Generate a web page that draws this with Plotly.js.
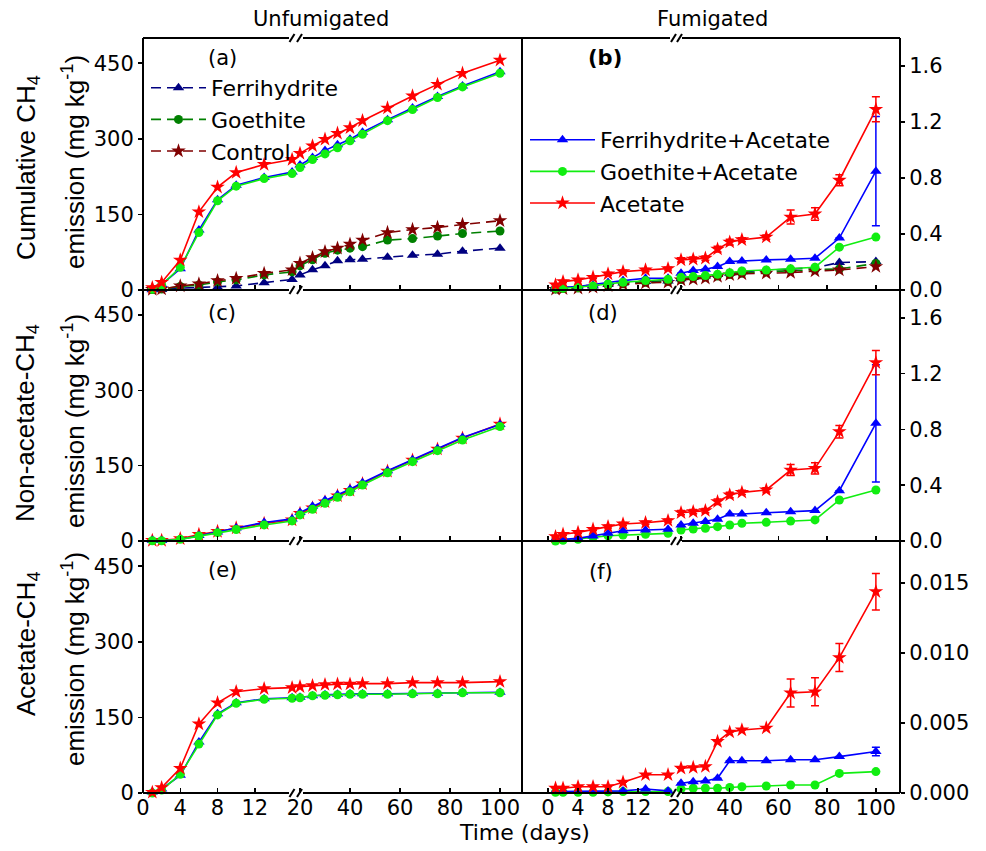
<!DOCTYPE html>
<html>
<head>
<meta charset="utf-8">
<script src="https://cdn.plot.ly/plotly-3.0.1.min.js"></script>
<style>html,body{margin:0;padding:0;background:#fff;}#chart{width:986px;height:851px;}</style>
</head>
<body>
<div id="chart"></div>
<script>
// ---------------- DATA ----------------
const days = [1, 2, 4, 6, 8, 10, 13, 16, 20, 25, 30, 35, 40, 45, 55, 65, 75, 85, 100];
const ticksLeftSeg = [0, 4, 8, 12];
const ticksRightSeg = [20, 40, 60, 80, 100];

// (a) Unfumigated, cumulative CH4 (mg kg-1)
const a_ferri   = [0.5, 1, 3.7, 5, 5.3, 8, 14.6, 21, 30, 40, 48, 58, 60, 61, 65, 69, 71, 77, 83];
const a_goe     = [1, 2, 7, 10, 16, 20, 30, 36, 48, 60, 73, 79, 83, 86, 99, 102, 107, 112, 117];
const a_ctrl    = [1, 2, 8, 12, 18.5, 23, 33, 40, 53, 64, 76, 83, 91, 99, 114, 120, 124, 130, 137.5];
const a_ferriAc = [2, 11, 42, 119, 179, 208, 223, 234, 248, 263, 277, 288, 299, 313, 338, 361, 384, 405, 433];
const a_goeAc   = [1.3, 10, 45, 114, 177, 206, 221, 231, 243, 259, 270, 282, 296, 309, 336, 358, 382, 403, 430];
const a_ac      = [4.6, 15, 59.5, 155, 204, 233, 249, 259, 271, 286, 299, 311, 322, 336, 361, 385, 408, 430, 456];

// (b) Fumigated, cumulative CH4
const b_ferri   = [0.008, 0.012, 0.018, 0.028, 0.04, 0.05, 0.06, 0.065, 0.08, 0.09, 0.1, 0.11, 0.12, 0.13, 0.14, 0.15, 0.16, 0.196, 0.203];
const b_goe     = [0.006, 0.01, 0.015, 0.024, 0.035, 0.045, 0.055, 0.06, 0.075, 0.085, 0.093, 0.1, 0.11, 0.12, 0.13, 0.14, 0.145, 0.15, 0.19];
const b_ctrl    = [0.005, 0.008, 0.012, 0.02, 0.03, 0.04, 0.05, 0.055, 0.072, 0.077, 0.084, 0.096, 0.108, 0.115, 0.12, 0.124, 0.135, 0.143, 0.167];
const b_ferriAc = [0.024, 0.02, 0.024, 0.036, 0.053, 0.067, 0.084, 0.084, 0.12, 0.139, 0.148, 0.167, 0.203, 0.208, 0.215, 0.22, 0.227, 0.371, 0.849];
const b_ferriAc_err = [0, 0, 0, 0, 0, 0, 0, 0, 0, 0, 0, 0, 0, 0, 0, 0, 0, 0, 0.39];
const b_goeAc   = [0.012, 0.012, 0.02, 0.029, 0.043, 0.055, 0.067, 0.077, 0.091, 0.096, 0.103, 0.112, 0.124, 0.136, 0.143, 0.151, 0.163, 0.306, 0.378];
const b_ac      = [0.036, 0.06, 0.072, 0.091, 0.115, 0.131, 0.143, 0.153, 0.215, 0.22, 0.227, 0.292, 0.342, 0.359, 0.378, 0.521, 0.543, 0.784, 1.291];
const b_ac_err  = [0.008, 0.008, 0.008, 0.008, 0.01, 0.01, 0.01, 0.01, 0.015, 0.015, 0.015, 0.02, 0.02, 0.015, 0.015, 0.05, 0.045, 0.04, 0.09];

// (c) Unfumigated, non-acetate CH4
const c_ac      = [1, 1.2, 4.5, 13, 19, 26, 35, 42, 55, 66, 78, 90, 101, 114, 139, 161, 183, 205, 233];
const c_ferriAc = [1.5, 1, 3, 11, 18, 26, 37, 44, 57, 69, 81, 92, 103, 116, 140, 162, 184, 206, 232];
const c_goeAc   = [0.6, 0.6, 3.3, 10, 16.6, 23, 32, 40, 52, 63, 75, 87, 98, 111.5, 136, 158, 180, 201, 228];

// (d) Fumigated, non-acetate CH4
const d_ferriAc = [0.012, 0.012, 0.019, 0.036, 0.055, 0.074, 0.079, 0.084, 0.115, 0.127, 0.139, 0.156, 0.194, 0.194, 0.203, 0.21, 0.218, 0.361, 0.844];
const d_ferriAc_err = [0, 0, 0, 0, 0, 0, 0, 0, 0, 0, 0, 0, 0, 0, 0, 0, 0, 0, 0.42];
const d_goeAc   = [0, 0.005, 0.012, 0.026, 0.038, 0.043, 0.048, 0.055, 0.079, 0.086, 0.091, 0.103, 0.115, 0.127, 0.134, 0.143, 0.151, 0.294, 0.366];
const d_ac      = [0.031, 0.048, 0.062, 0.084, 0.103, 0.122, 0.131, 0.146, 0.203, 0.21, 0.218, 0.282, 0.33, 0.349, 0.366, 0.509, 0.521, 0.784, 1.279];
const d_ac_err  = [0.008, 0.008, 0.008, 0.008, 0.01, 0.01, 0.01, 0.01, 0.015, 0.015, 0.015, 0.02, 0.02, 0.015, 0.015, 0.04, 0.04, 0.045, 0.087];

// (e) Unfumigated, acetate CH4
const e_ac      = [1.3, 10.7, 49, 137, 179, 201, 207, 209, 211, 213, 215, 216, 216, 217, 217, 219, 219, 219, 221];
const e_ferriAc = [2, 8, 35, 101, 157, 179, 187, 189, 190, 193, 195, 196, 197, 197, 197, 198, 198, 200, 200];
const e_goeAc   = [0, 6, 37, 97, 155, 178, 186, 188, 189, 193, 194, 195, 196, 196, 196, 197, 197, 199, 199];

// (f) Fumigated, acetate CH4
const f_ferriAc = [0.0001, 0.0001, 0.0001, 0.0001, 0.00012, 0.00015, 0.00029, 0.00015, 0.0007, 0.00081, 0.00086, 0.00105, 0.0023, 0.0023, 0.0023, 0.00237, 0.00237, 0.0026, 0.00296];
const f_ferriAc_err = [0, 0, 0, 0, 0, 0, 0, 0, 0, 0, 0, 0, 0, 0, 0, 0, 0, 0, 0.0003];
const f_goeAc   = [0.00005, 0.00005, 0.00005, 0.00005, 0.00008, 0.0001, 0.0001, 0.0001, 0.00029, 0.00034, 0.00034, 0.00034, 0.0004, 0.00045, 0.0005, 0.00057, 0.00057, 0.0014, 0.00153];
const f_ac      = [0.00034, 0.00034, 0.00045, 0.00045, 0.00045, 0.00077, 0.0013, 0.0013, 0.00177, 0.00182, 0.00189, 0.00368, 0.00435, 0.0045, 0.00464, 0.00715, 0.00723, 0.00967, 0.01438];
const f_ac_err  = [0, 0, 0, 0, 0, 0, 0, 0, 0, 0, 0, 0, 0, 0, 0, 0.001, 0.001, 0.001, 0.0013];

// ---------------- STYLE / GEOMETRY ----------------
const FONT = 'DejaVu Sans';
const W = 986, H = 851;
const ML = 143, MR = 86, MT = 38, MB = 58;
const PW = W - ML - MR, PH = H - MT - MB;
const fx = px => (px - ML) / PW;
const fy = py => (H - MB - py) / PH;

const rowsPx = [[38, 290], [290, 541], [541, 793]];
const colSeg = [
  {L: [143, 296], R: [296, 522], rL: [0, 16.42], rR: [18.4, 108.8], brk: [289, 303], sl: [292, 299.5]},
  {L: [522, 675], R: [675, 900], rL: [-3.47, 16.93], rR: [17.53, 109.9], brk: [670, 682], sl: [673.5, 679.5]}
];
const yRanges = [[0, 500], [0, 1.8], [0, 500], [0, 1.8], [0, 500], [0, 0.018]];
const yTicks = [[0, 150, 300, 450], [0, 0.4, 0.8, 1.2, 1.6], [0, 150, 300, 450], [0, 0.4, 0.8, 1.2, 1.6], [0, 150, 300, 450], [0, 0.005, 0.010, 0.015]];
const yFormats = ['d', '.1f', 'd', '.1f', 'd', '.3f'];

const styles = {
  ferri:   {color: '#000080', symbol: 'triangle-up', size: 10, dash: '10px,6px'},
  goe:     {color: '#008000', symbol: 'circle', size: 9, dash: '10px,6px'},
  ctrl:    {color: '#800000', symbol: 'star', size: 11, dash: '10px,6px'},
  ferriAc: {color: '#0000ff', symbol: 'triangle-up', size: 10, dash: 'solid'},
  goeAc:   {color: '#11ee11', symbol: 'circle', size: 9, dash: 'solid'},
  ac:      {color: '#ff0000', symbol: 'star', size: 11, dash: 'solid'}
};
const names = {ferri: 'Ferrihydrite', goe: 'Goethite', ctrl: 'Control',
  ferriAc: 'Ferrihydrite+Acetate', goeAc: 'Goethite+Acetate', ac: 'Acetate'};

const axId = (k, n) => n === 1 ? k : k + n;
const layout = {
  width: W, height: H,
  margin: {l: ML, r: MR, t: MT, b: MB},
  paper_bgcolor: '#ffffff', plot_bgcolor: 'rgba(0,0,0,0)',
  font: {family: FONT, size: 21, color: '#000'},
  showlegend: true,
  legend: {x: fx(146), y: fy(67), xanchor: 'left', yanchor: 'top', bgcolor: 'rgba(0,0,0,0)',
    font: {family: FONT, size: 22, color: '#000'}, itemwidth: 55, tracegroupgap: 0, traceorder: 'normal'},
  legend2: {x: fx(525), y: fy(119), xanchor: 'left', yanchor: 'top', bgcolor: 'rgba(0,0,0,0)',
    font: {family: FONT, size: 22, color: '#000'}, itemwidth: 65, tracegroupgap: 0, traceorder: 'normal'},
  shapes: [], annotations: []
};

for (let p = 1; p <= 6; p++) {
  const row = Math.floor((p - 1) / 2), col = (p - 1) % 2;
  const seg = colSeg[col], rp = rowsPx[row];
  const idL = 2 * p - 1, idR = 2 * p;
  const yName = axId('y', p);
  const common = {showgrid: false, zeroline: false, showline: false, ticks: 'inside', ticklen: 5,
    tickwidth: 1.5, tickcolor: '#000', showticklabels: row === 2,
    tickfont: {family: FONT, size: 21, color: '#000'}, fixedrange: true, anchor: yName};
  layout[axId('xaxis', idL)] = Object.assign({}, common, {domain: [fx(seg.L[0]), fx(seg.L[1])], range: seg.rL, tickvals: ticksLeftSeg, ticktext: ticksLeftSeg.map(String), tickmode: 'array'});
  layout[axId('xaxis', idR)] = Object.assign({}, common, {domain: [fx(seg.R[0]), fx(seg.R[1])], range: seg.rR, tickvals: ticksRightSeg, ticktext: ticksRightSeg.map(String), tickmode: 'array'});
  layout[axId('yaxis', p)] = {
    domain: [fy(rp[1]), fy(rp[0])], range: yRanges[p - 1], tickmode: 'array', tickvals: yTicks[p - 1],
    tickformat: yFormats[p - 1], showgrid: false, zeroline: false, showline: false,
    ticks: 'outside', ticklen: 4, tickwidth: 1.5, tickcolor: '#000',
    side: col === 0 ? 'left' : 'right', anchor: axId('x', col === 0 ? idL : idR),
    tickfont: {family: FONT, size: 21, color: '#000'}, fixedrange: true
  };
}

const traces = [];
function addSeries(p, key, y, err, legendId) {
  const st = styles[key];
  const idL = 2 * p - 1, idR = 2 * p;
  const segs = [
    {ax: axId('x', idL), idx: days.map((d, i) => i).filter(i => days[i] <= 16)},
    {ax: axId('x', idR), idx: days.map((d, i) => i).filter(i => days[i] >= 20)}
  ];
  segs.forEach((s, k) => {
    const t = {
      type: 'scatter', mode: 'lines+markers', name: names[key],
      x: s.idx.map(i => days[i]), y: s.idx.map(i => y[i]),
      xaxis: s.ax, yaxis: axId('y', p), cliponaxis: false,
      line: {color: st.color, width: 1.6, dash: st.dash},
      marker: {color: st.color, symbol: st.symbol, size: st.size},
      showlegend: !!legendId && k === 1, hoverinfo: 'x+y'
    };
    if (legendId) t.legend = legendId;
    if (err) t.error_y = {type: 'data', array: s.idx.map(i => err[i]), visible: true, color: st.color, thickness: 1.5, width: 4};
    traces.push(t);
  });
}

// (a)
addSeries(1, 'ferri', a_ferri, null, 'legend');
addSeries(1, 'goe', a_goe, null, 'legend');
addSeries(1, 'ctrl', a_ctrl, null, 'legend');
addSeries(1, 'ferriAc', a_ferriAc, null, null);
addSeries(1, 'goeAc', a_goeAc, null, null);
addSeries(1, 'ac', a_ac, null, null);
// (b)
addSeries(2, 'ferri', b_ferri, null, null);
addSeries(2, 'goe', b_goe, null, null);
addSeries(2, 'ctrl', b_ctrl, null, null);
addSeries(2, 'ferriAc', b_ferriAc, b_ferriAc_err, 'legend2');
addSeries(2, 'goeAc', b_goeAc, null, 'legend2');
addSeries(2, 'ac', b_ac, b_ac_err, 'legend2');
// (c)
addSeries(3, 'ac', c_ac, null, null);
addSeries(3, 'ferriAc', c_ferriAc, null, null);
addSeries(3, 'goeAc', c_goeAc, null, null);
// (d)
addSeries(4, 'goeAc', d_goeAc, null, null);
addSeries(4, 'ferriAc', d_ferriAc, d_ferriAc_err, null);
addSeries(4, 'ac', d_ac, d_ac_err, null);
// (e)
addSeries(5, 'ferriAc', e_ferriAc, null, null);
addSeries(5, 'goeAc', e_goeAc, null, null);
addSeries(5, 'ac', e_ac, null, null);
// (f)
addSeries(6, 'goeAc', f_goeAc, null, null);
addSeries(6, 'ferriAc', f_ferriAc, f_ferriAc_err, null);
addSeries(6, 'ac', f_ac, f_ac_err, null);

// ---------------- FRAME (axis lines with breaks) ----------------
const lineStyle = {color: '#000', width: 2};
function seg(x0, y0, x1, y1) {
  layout.shapes.push({type: 'line', xref: 'paper', yref: 'paper', x0: fx(x0), y0: fy(y0), x1: fx(x1), y1: fy(y1), line: lineStyle, layer: 'above'});
}
[143, 522, 900].forEach(x => seg(x, 38, x, 793));
[38, 290, 541, 793].forEach(y => {
  seg(143, y, colSeg[0].brk[0], y); seg(colSeg[0].brk[1], y, 522, y);
  seg(522, y, colSeg[1].brk[0], y); seg(colSeg[1].brk[1], y, 900, y);
  colSeg.forEach(c => c.sl.forEach(cx => seg(cx - 2.5, y + 4, cx + 2.5, y - 4)));
});

// ---------------- TEXT ----------------
function ann(text, x, y, opts) {
  layout.annotations.push(Object.assign({text: text, xref: 'paper', yref: 'paper', x: fx(x), y: fy(y),
    xanchor: 'center', yanchor: 'middle', showarrow: false,
    font: {family: FONT, size: 21, color: '#000'}}, opts || {}));
}
ann('Unfumigated', 321, 19);
ann('Fumigated', 712, 19);
ann('(a)', 222, 58);
ann('<b>(b)</b>', 605, 58);
ann('(c)', 222, 313);
ann('(d)', 603, 313);
ann('(e)', 222, 570);
ann('(f)', 601, 572);
ann('Time (days)', 524, 832, {font: {family: FONT, size: 22, color: '#000'}});

const yTitleFont = {family: 'Liberation Sans', size: 26, color: '#000'};
ann('Cumulative CH<sub>4</sub>', 27, 168, {textangle: -90, font: yTitleFont});
ann('emission (mg kg<sup>-1</sup>)', 73, 162, {textangle: -90, font: yTitleFont});
ann('Non-acetate-CH<sub>4</sub>', 27, 423, {textangle: -90, font: yTitleFont});
ann('emission (mg kg<sup>-1</sup>)', 73, 421, {textangle: -90, font: yTitleFont});
ann('Acetate-CH<sub>4</sub>', 27, 644, {textangle: -90, font: yTitleFont});
ann('emission (mg kg<sup>-1</sup>)', 73, 659, {textangle: -90, font: yTitleFont});

Plotly.newPlot('chart', traces, layout, {displayModeBar: false, staticPlot: true});
</script>
</body>
</html>
